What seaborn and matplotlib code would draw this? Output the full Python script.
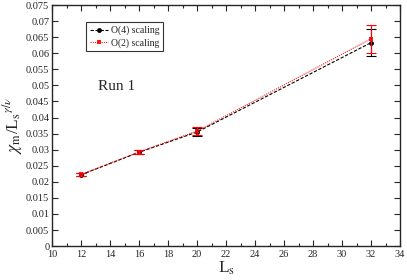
import numpy as np
import pandas as pd
import seaborn as sns
from matplotlib import pyplot as plt
from matplotlib.ticker import MultipleLocator

# Values
Ls = [12, 16, 20, 32]
o4_vals = [0.0222, 0.0292, 0.0355, 0.0633]
o4_errs = [0.0005, 0.0006, 0.0012, 0.0042]
o2_vals = [0.0223, 0.0293, 0.0358, 0.0645]
o2_errs = [0.0005, 0.0006, 0.0012, 0.0043]

sns.set_style("ticks")
plt.rcParams['font.family'] = ['Liberation Serif', 'DejaVu Serif']
plt.rcParams['mathtext.fontset'] = 'stix'

fig = plt.figure(figsize=(4.07, 2.80), dpi=100)
ax = fig.add_axes([0.128, 0.121, 0.855, 0.861])

df4 = pd.DataFrame({"L": Ls, "v": o4_vals})
df2 = pd.DataFrame({"L": Ls, "v": o2_vals})

sns.lineplot(data=df4, x="L", y="v", ax=ax, color="black", lw=0.8,
             linestyle=(0, (3, 1.5)), marker="o", markersize=3.5,
             markeredgewidth=0, label="O(4) scaling")
ax.errorbar(Ls, o4_vals, yerr=o4_errs, fmt="none", ecolor="black",
            elinewidth=0.8, capsize=3.5, capthick=0.8)

sns.lineplot(data=df2, x="L", y="v", ax=ax, color="red", lw=0.8,
             linestyle=(0, (1, 1)), marker="s", markersize=3.5,
             markeredgewidth=0, label="O(2) scaling", alpha=0.9)
ax.errorbar(Ls, o2_vals, yerr=o2_errs, fmt="none", ecolor="red",
            elinewidth=0.8, capsize=3.5, capthick=0.8)

ax.set_xlim(10, 34)
ax.set_ylim(0, 0.075)
ax.xaxis.set_major_locator(MultipleLocator(2))
ax.xaxis.set_minor_locator(MultipleLocator(1))
ax.yaxis.set_major_locator(MultipleLocator(0.005))
ax.yaxis.set_major_formatter(plt.FuncFormatter(lambda v, p: ("%g" % round(v, 4))))

ax.tick_params(which="both", direction="in", top=True, right=True,
               labelsize=7.5, width=0.8)
ax.tick_params(axis="y", pad=2)
ax.tick_params(axis="x", pad=3)
ax.tick_params(which="major", length=4)
ax.tick_params(which="minor", length=2)
for s in ax.spines.values():
    s.set_linewidth(1.0)

ax.set_xlabel(r"L$_\mathrm{s}$", fontsize=12.5, labelpad=0)
ax.set_ylabel(r"$\chi_\mathrm{m}$/L$_\mathrm{s}$$^{\gamma/\nu}$", fontsize=12.5, labelpad=1)

ax.text(13.2, 0.0498, "Run 1", fontsize=11, va="center")

leg = ax.legend(loc="upper left", bbox_to_anchor=(0.098, 0.929), fontsize=7,
                frameon=True, fancybox=False, edgecolor="black",
                handlelength=1.9, borderpad=0.35, labelspacing=0.3,
                handletextpad=0.3, borderaxespad=0)
leg.get_frame().set_linewidth(0.8)

fig.savefig("out.png", dpi=100)
